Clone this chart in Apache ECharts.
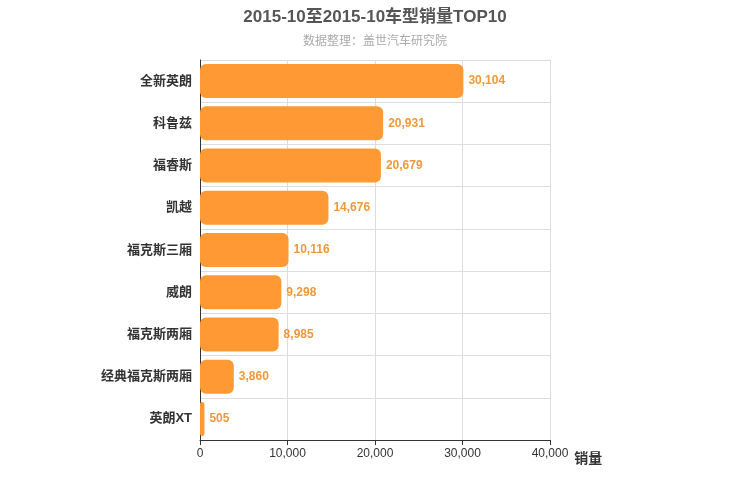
<!DOCTYPE html>
<html><head><meta charset="utf-8">
<script src="https://cdn.jsdelivr.net/npm/echarts@6/dist/echarts.min.js"></script>
<style>html,body{margin:0;padding:0}#c{width:750px;height:500px}</style>
</head><body><div id="c"></div>
<script>
const categories = ['英朗XT','经典福克斯两厢','福克斯两厢','威朗','福克斯三厢','凯越','福睿斯','科鲁兹','全新英朗'];
const values = [505,3860,8985,9298,10116,14676,20679,20931,30104];
const xTicks = [0,10000,20000,30000,40000];
const chart = echarts.init(document.getElementById('c'));
chart.setOption({
  animation:false,
  textStyle:{fontFamily:'Liberation Sans, Noto Sans CJK SC'},
  title:{text:'2015-10至2015-10车型销量TOP10',subtext:'数据整理：盖世汽车研究院',left:'center',top:4,
    textStyle:{fontSize:17,fontWeight:'bold',color:'#555'},subtextStyle:{fontSize:12,color:'#aaa'},itemGap:10},
  grid:{left:200,right:200,top:60,bottom:60,containLabel:false},
  xAxis:{type:'value',min:0,max:40000,interval:10000,name:'销量',nameLocation:'end',nameGap:15,
    nameTextStyle:{fontSize:14,fontWeight:'bold',color:'#333',verticalAlign:'top',padding:[12,0,0,0]},
    axisLine:{show:true,lineStyle:{color:'#333'}},axisTick:{show:true},
    axisLabel:{color:'#333',fontSize:12,formatter:v=>v.toLocaleString('en-US')},
    splitLine:{lineStyle:{color:'#ddd'}}},
  yAxis:{type:'category',data:categories,axisLine:{lineStyle:{color:'#333'}},axisTick:{show:false},
    axisLabel:{color:'#333',fontSize:13,fontWeight:'bold',margin:8},
    splitLine:{show:true,lineStyle:{color:'#ddd'}}},
  series:[{type:'bar',data:values,barWidth:34,
    itemStyle:{color:'#ff9933',borderRadius:6},
    label:{show:true,position:'right',color:'#f0993a',fontSize:12,fontWeight:'bold',
      formatter:p=>p.value.toLocaleString('en-US')}}]
});
</script></body></html>
